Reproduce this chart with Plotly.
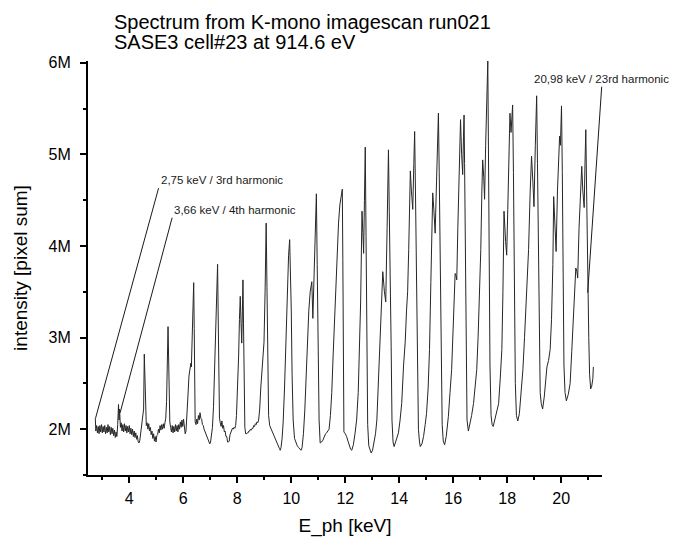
"""
Spectrum from K-mono imagescan run021 (SASE3 cell#23 at 914.6 eV).

Plotly line chart of the summed pixel intensity versus photon energy.
"""

import plotly.graph_objects as go

# Photon energy [keV] and intensity [million pixel counts]
e_ph_kev = [
    2.74, 2.76, 2.79, 2.82, 2.85, 2.88, 2.91, 2.94, 2.97, 3.00,
    3.03, 3.06, 3.09, 3.12, 3.15, 3.18, 3.21, 3.24, 3.27, 3.30,
    3.33, 3.36, 3.39, 3.42, 3.45, 3.48, 3.51, 3.54, 3.57, 3.60,
    3.62, 3.64, 3.67, 3.70, 3.73, 3.76, 3.79, 3.82, 3.85, 3.88,
    3.91, 3.94, 3.97, 4.00, 4.03, 4.06, 4.09, 4.12, 4.15, 4.18,
    4.21, 4.24, 4.27, 4.30, 4.33, 4.36, 4.39, 4.42, 4.46, 4.50,
    4.53, 4.555, 4.575, 4.60, 4.63, 4.66, 4.69, 4.72, 4.75, 4.78,
    4.81, 4.84, 4.87, 4.90, 4.93, 4.96, 4.99, 5.02, 5.05, 5.08,
    5.11, 5.14, 5.17, 5.20, 5.23, 5.26, 5.29, 5.32, 5.35, 5.38,
    5.41, 5.435, 5.455, 5.475, 5.50, 5.53, 5.56, 5.59, 5.62, 5.65,
    5.68, 5.71, 5.74, 5.77, 5.80, 5.83, 5.86, 5.89, 5.92, 5.95,
    5.98, 6.01, 6.04, 6.07, 6.10, 6.13, 6.17, 6.21, 6.25, 6.28,
    6.30, 6.33, 6.36, 6.385, 6.405, 6.42, 6.44, 6.47, 6.50, 6.53,
    6.56, 6.59, 6.62, 6.65, 6.68, 6.71, 6.74, 6.77, 6.80, 6.83,
    6.86, 6.89, 6.92, 6.95, 6.98, 7.01, 7.04, 7.08, 7.12, 7.16,
    7.20, 7.24, 7.27, 7.29, 7.31, 7.34, 7.37, 7.40, 7.43, 7.46,
    7.49, 7.52, 7.55, 7.58, 7.61, 7.64, 7.67, 7.70, 7.73, 7.76,
    7.79, 7.82, 7.85, 7.88, 7.91, 7.94, 7.97, 8.01, 8.05, 8.08,
    8.11, 8.14, 8.165, 8.19, 8.21, 8.23, 8.25, 8.28, 8.31, 8.34,
    8.37, 8.40, 8.43, 8.46, 8.49, 8.52, 8.55, 8.58, 8.61, 8.64,
    8.67, 8.70, 8.73, 8.76, 8.79, 8.83, 8.87, 8.91, 8.95, 8.99,
    9.03, 9.07, 9.10, 9.13, 9.16, 9.20, 9.24, 9.28, 9.32, 9.36,
    9.40, 9.44, 9.48, 9.52, 9.56, 9.59, 9.62, 9.66, 9.70, 9.75,
    9.80, 9.85, 9.90, 9.94, 9.965, 9.98, 10.00, 10.03, 10.07, 10.12,
    10.17, 10.22, 10.27, 10.32, 10.36, 10.40, 10.45, 10.50, 10.55, 10.60,
    10.65, 10.70, 10.76, 10.80, 10.84, 10.88, 10.93, 10.96, 10.99, 11.03,
    11.07, 11.12, 11.17, 11.22, 11.27, 11.31, 11.36, 11.40, 11.45, 11.50,
    11.55, 11.60, 11.65, 11.70, 11.75, 11.80, 11.85, 11.89, 11.91, 11.93,
    11.95, 12.00, 12.05, 12.10, 12.15, 12.20, 12.24, 12.30, 12.36, 12.42,
    12.48, 12.53, 12.57, 12.60, 12.62, 12.65, 12.68, 12.71, 12.74, 12.77,
    12.80, 12.83, 12.87, 12.91, 12.96, 13.01, 13.07, 13.12, 13.17, 13.22,
    13.27, 13.31, 13.35, 13.39, 13.45, 13.50, 13.55, 13.60, 13.63, 13.66,
    13.70, 13.73, 13.77, 13.81, 13.86, 13.92, 13.97, 14.03, 14.09, 14.16,
    14.22, 14.27, 14.31, 14.35, 14.38, 14.41, 14.45, 14.50, 14.54, 14.57,
    14.60, 14.63, 14.67, 14.71, 14.75, 14.78, 14.84, 14.90, 14.96, 15.01,
    15.07, 15.12, 15.17, 15.21, 15.24, 15.28, 15.33, 15.38, 15.42, 15.45,
    15.48, 15.51, 15.55, 15.59, 15.63, 15.68, 15.74, 15.82, 15.88, 15.94,
    15.99, 16.04, 16.07, 16.10, 16.13, 16.17, 16.22, 16.27, 16.31, 16.35,
    16.38, 16.40, 16.42, 16.45, 16.48, 16.51, 16.56, 16.62, 16.68, 16.75,
    16.81, 16.87, 16.92, 16.97, 17.02, 17.06, 17.09, 17.13, 17.16, 17.20,
    17.24, 17.28, 17.30, 17.33, 17.36, 17.40, 17.44, 17.48, 17.54, 17.61,
    17.68, 17.74, 17.80, 17.84, 17.88, 17.94, 17.98, 18.02, 18.06, 18.10,
    18.14, 18.17, 18.20, 18.23, 18.26, 18.30, 18.34, 18.39, 18.45, 18.52,
    18.58, 18.64, 18.70, 18.74, 18.79, 18.85, 18.90, 18.95, 18.99, 19.04,
    19.09, 19.12, 19.16, 19.19, 19.22, 19.26, 19.31, 19.37, 19.43, 19.47,
    19.53, 19.59, 19.64, 19.69, 19.72, 19.76, 19.81, 19.86, 19.91, 19.94,
    19.97, 20.01, 20.04, 20.07, 20.10, 20.14, 20.19, 20.26, 20.33, 20.39,
    20.45, 20.50, 20.54, 20.58, 20.61, 20.66, 20.71, 20.76, 20.80, 20.85,
    20.88, 20.91, 20.94, 20.97, 20.99, 21.02, 21.05, 21.09, 21.13, 21.17,
    21.19,
]

intensity_m = [
    2.12, 1.98, 2.04, 1.96, 2.03, 1.95, 2.04, 1.97, 2.05, 1.96,
    2.03, 1.97, 2.04, 1.95, 2.02, 1.96, 2.05, 1.97, 2.03, 1.94,
    2.02, 1.95, 2.01, 1.93, 1.99, 1.91, 1.97, 1.92, 2.05, 2.27,
    2.10, 2.22, 2.02, 2.07, 1.98, 2.05, 1.97, 2.06, 1.98, 2.04,
    1.96, 2.03, 1.97, 2.04, 1.95, 2.01, 1.94, 2.00, 1.92, 1.98,
    1.91, 1.96, 1.89, 1.93, 1.86, 1.85, 1.88, 1.95, 2.03, 2.10,
    2.22, 2.82, 2.50, 2.12, 2.04, 2.07, 2.00, 2.06, 1.98, 2.02,
    1.94, 1.98, 1.90, 1.95, 1.87, 1.92, 1.86, 1.93, 1.94, 2.00,
    1.96, 2.04, 1.99, 2.05, 2.00, 2.06, 2.01, 2.07, 2.12, 2.30,
    2.75, 3.12, 2.80, 2.30, 2.08, 2.02, 1.97, 2.04, 1.96, 2.03,
    1.97, 2.05, 1.98, 2.04, 1.97, 2.05, 2.00, 2.08, 2.02, 2.10,
    2.03, 2.11, 2.03, 1.95, 1.98, 2.10, 2.35, 2.58, 2.68, 2.72,
    2.68, 2.95, 3.35, 3.60, 3.10, 2.45, 2.08, 2.05, 2.11, 2.06,
    2.15, 2.10, 2.18, 2.12, 2.11, 2.05, 2.04, 2.00, 1.98, 1.95,
    1.93, 1.90, 1.89, 1.86, 1.84, 1.86, 1.91, 2.02, 2.25, 2.65,
    3.05, 3.50, 3.80, 3.30, 2.55, 2.12, 2.07, 2.03, 2.09, 2.01,
    2.04, 1.97, 1.98, 1.92, 1.92, 1.86, 1.86, 1.87, 1.94, 1.96,
    2.00, 2.01, 2.00, 2.02, 2.01, 2.04, 2.15, 2.40, 2.80, 3.20,
    3.45, 3.15, 2.94, 3.30, 3.63, 3.15, 2.45, 2.02, 1.95, 1.95,
    1.96, 1.96, 1.98, 1.98, 2.00, 1.99, 2.01, 2.01, 2.04, 2.03,
    2.06, 2.05, 2.08, 2.07, 2.10, 2.22, 2.45, 2.62, 2.68, 2.95,
    3.50, 4.25, 3.55, 2.65, 2.15, 2.04, 2.01, 1.98, 1.96, 1.92,
    1.89, 1.86, 1.84, 1.81, 1.79, 1.77, 1.80, 1.90, 2.08, 2.45,
    2.95, 3.50, 3.90, 4.07, 3.75, 3.63, 3.30, 2.60, 2.10, 1.90,
    1.85, 1.82, 1.80, 1.78, 1.77, 1.80, 1.95, 2.20, 2.60, 3.00,
    3.30, 3.50, 3.61, 3.21, 3.60, 4.20, 4.57, 3.80, 2.80, 2.10,
    1.85, 1.86, 1.88, 1.92, 1.95, 1.96, 1.98, 2.00, 2.15, 2.40,
    2.80, 3.20, 3.60, 3.95, 4.25, 4.45, 4.58, 4.62, 3.85, 2.40,
    1.97, 1.95, 1.92, 1.87, 1.82, 1.78, 1.77, 1.83, 1.95, 2.10,
    2.40, 2.85, 3.40, 4.00, 4.38, 4.15, 3.92, 4.50, 5.08, 4.10,
    2.90, 2.05, 1.82, 1.77, 1.74, 1.77, 1.85, 1.95, 2.10, 2.50,
    2.85, 3.20, 3.45, 3.72, 3.50, 3.39, 4.20, 5.05, 4.38, 3.90,
    2.90, 2.10, 1.86, 1.81, 1.86, 1.93, 1.96, 2.10, 2.28, 2.70,
    2.95, 3.30, 3.50, 3.96, 4.50, 4.82, 4.60, 4.40, 4.90, 5.25,
    4.60, 3.90, 2.60, 2.00, 1.86, 1.81, 1.84, 1.92, 2.05, 2.17,
    2.45, 2.87, 3.60, 4.25, 4.58, 4.40, 4.14, 4.70, 5.20, 5.45,
    4.80, 3.90, 2.70, 2.05, 1.87, 1.83, 1.92, 2.14, 2.40, 2.65,
    3.05, 3.41, 3.70, 3.68, 3.63, 4.20, 4.90, 5.38, 5.00, 4.78,
    5.20, 5.43, 4.90, 3.80, 2.60, 2.10, 1.98, 2.05, 2.15, 2.28,
    2.45, 2.65, 3.00, 3.41, 3.96, 4.60, 4.94, 4.75, 4.51, 5.10,
    5.60, 6.02, 5.20, 3.90, 2.70, 2.15, 2.05, 2.03, 2.10, 2.20,
    2.28, 2.55, 2.87, 3.50, 4.38, 4.05, 3.90, 4.40, 5.05, 5.45,
    5.24, 5.35, 5.54, 4.80, 3.50, 2.50, 2.15, 2.09, 2.17, 2.40,
    2.65, 3.00, 3.40, 3.50, 3.96, 4.60, 4.98, 4.70, 4.43, 5.10,
    5.64, 4.90, 3.80, 2.80, 2.40, 2.28, 2.22, 2.35, 2.55, 2.68,
    2.75, 2.87, 3.20, 3.80, 4.54, 4.20, 3.94, 4.60, 5.10, 5.20,
    5.10, 5.53, 4.80, 3.70, 2.70, 2.40, 2.31, 2.38, 2.50, 2.85,
    3.23, 3.60, 3.76, 3.72, 3.65, 4.20, 4.60, 4.87, 4.60, 4.42,
    4.90, 5.27, 4.60, 3.80, 3.50, 3.00, 2.60, 2.44, 2.47, 2.55,
    2.68,
]

# Labelled harmonics: energy, intensity where the leader line ends, text
harmonic_kev = [2.75, 3.66, 20.98]
harmonic_head_m = [2.12, 2.18, 3.49]
harmonic_labels = [
    "2,75 keV / 3rd harmonic",
    "3,66 keV / 4th harmonic",
    "20,98 keV / 23rd harmonic",
]

title_lines = [
    "Spectrum from K-mono imagescan run021",
    "SASE3 cell#23 at 914.6 eV",
]

FONT = "Arial, 'Liberation Sans', sans-serif"


def gerar_figura():
    """Monta a figura do espectro."""
    fig = go.Figure()

    fig.add_trace(go.Scatter(
        x=e_ph_kev,
        y=[v * 1e6 for v in intensity_m],
        mode="lines",
        line=dict(color="#262626", width=1),
        showlegend=False,
    ))

    # leader lines to the labelled harmonics (tail offsets in pixels)
    tails = [(63, -230), (52, -195), (14, -206)]
    anchors = ["left", "left", "center"]
    for kev, head, label, (ax, ay), xa in zip(harmonic_kev, harmonic_head_m,
                                              harmonic_labels, tails, anchors):
        fig.add_annotation(
            x=kev, y=head * 1e6, text=label,
            showarrow=True, arrowhead=0, arrowwidth=1, arrowcolor="#1a1a1a",
            ax=ax, ay=ay, xanchor=xa, yanchor="bottom",
            font=dict(size=11.5, color="#1a1a1a", family=FONT),
        )

    # two-line title, kept tight like the original
    for line, y in zip(title_lines, [1.093, 1.047]):
        fig.add_annotation(
            x=0.046, y=y, xref="paper", yref="paper", text=line,
            showarrow=False, xanchor="left", yanchor="middle",
            font=dict(size=20, color="black", family=FONT),
        )

    axis_common = dict(
        showline=True, linecolor="black", linewidth=2,
        ticks="outside", ticklen=6, tickwidth=1.5, tickcolor="black",
        showgrid=False, zeroline=False, automargin=False,
        tickfont=dict(size=16, color="black", family=FONT),
    )

    fig.update_xaxes(
        range=[2.47, 21.51], dtick=2, tick0=0,
        minor=dict(dtick=1, tick0=0, ticks="outside", ticklen=3,
                   tickwidth=1.5, tickcolor="black"),
        ticklabelstandoff=2,
        title=dict(text="E_ph [keV]", standoff=12,
                   font=dict(size=19, color="black", family=FONT)),
        **axis_common,
    )
    fig.update_yaxes(
        range=[1.5e6, 6.02e6], dtick=1e6, tick0=0, tickformat="~s",
        minor=dict(dtick=0.5e6, tick0=0, ticks="outside", ticklen=3,
                   tickwidth=1.5, tickcolor="black"),
        ticklabelstandoff=6,
        title=dict(text="intensity [pixel sum]", standoff=16,
                   font=dict(size=19, color="black", family=FONT)),
        **axis_common,
    )

    # the page body adds 8 px on the top and left, so margins absorb it
    fig.update_layout(
        width=677, height=539,
        margin=dict(l=80, r=83, t=53, b=72),
        plot_bgcolor="white", paper_bgcolor="white",
        font=dict(family=FONT, color="black"),
    )
    return fig


fig = gerar_figura()
fig.write_html("out.html")
